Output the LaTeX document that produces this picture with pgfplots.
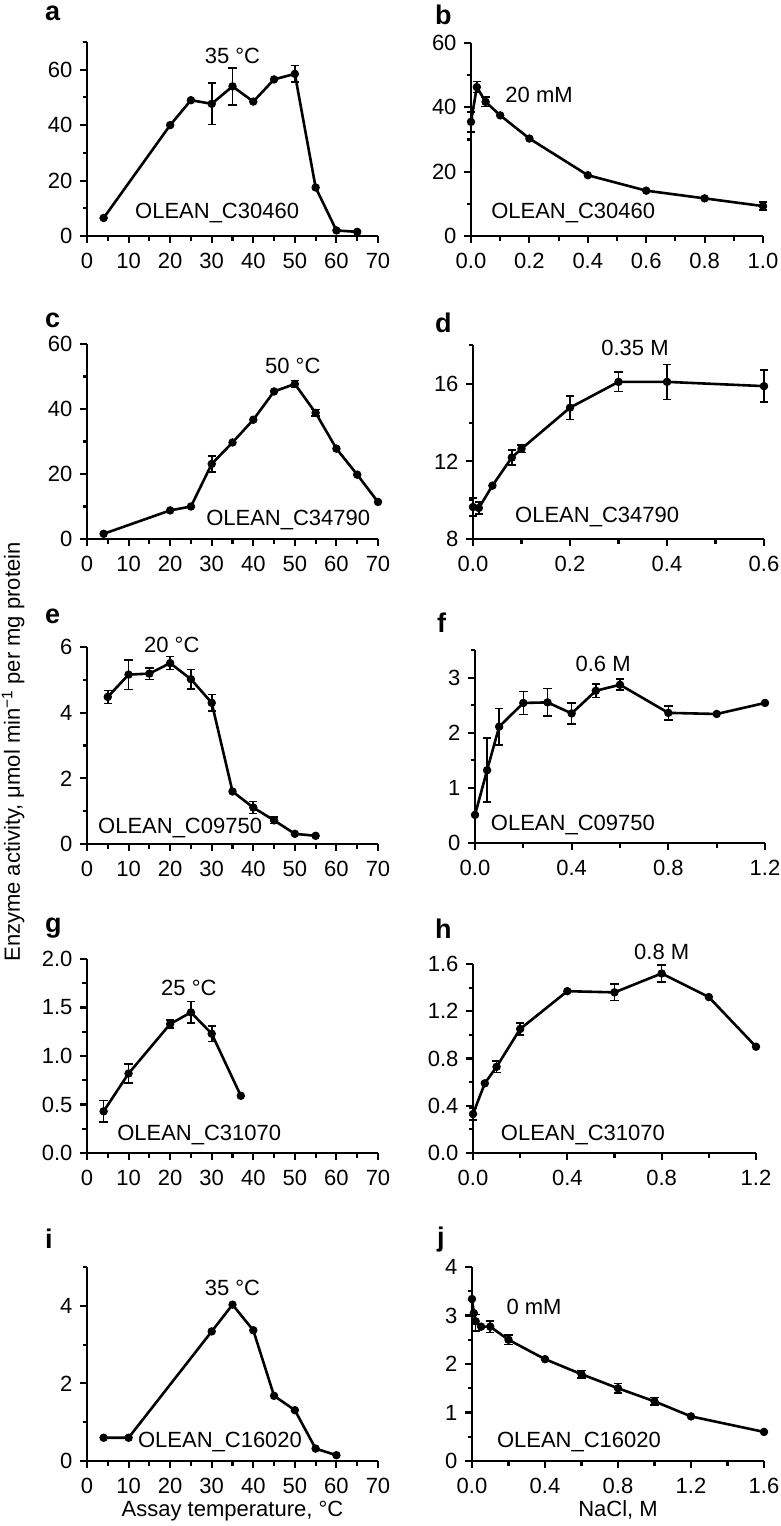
\documentclass[border=0pt]{standalone}
\usepackage{fontspec}
\setmainfont{Liberation Sans}
\usepackage{pgfplots}
\pgfplotsset{compat=1.18}
\newcommand\fs{\fontsize{22}{26}\selectfont}
\newcommand\fl{\fontsize{27}{30}\selectfont\bfseries}
\pgfplotsset{
  panel/.style={
    scale only axis,
    anchor=south west,
    axis lines=left,
    axis line style={-, line width=2.1pt, black},
    tick align=outside,
    major tick length=7pt,
    minor tick length=4.5pt,
    tick style={line width=2.1pt, black},
    tick label style={font=\fs},
    xticklabel style={yshift=-7pt},
    yticklabel style={xshift=-4pt},
    label style={font=\fs},
    /pgf/number format/assume math mode=true,
    clip=false,
    minor tick num=1,
    xmin=0,
  },
  curve/.style={black, line width=2.6pt, mark=*, mark size=3.7pt, mark options={solid, fill=black, line width=1pt}},
  ebar/.style={draw=none, mark=none, forget plot,
     error bars/.cd, y dir=both, y explicit,
     error bar style={draw=black, line width=1.6pt},
     error mark options={rotate=90, mark size=4.2pt, line width=1.6pt, draw=black}},
}
\begin{document}
\begin{tikzpicture}[x=1pt,y=1pt]
\useasboundingbox (0,0) rectangle (781,-1526);
% panel letters
\node[font=\fl, anchor=base west, inner sep=0] at (45,-20) {a};
\node[font=\fl, anchor=base west, inner sep=0] at (435,-24) {b};
\node[font=\fl, anchor=base west, inner sep=0] at (45,-327) {c};
\node[font=\fl, anchor=base west, inner sep=0] at (435,-332) {d};
\node[font=\fl, anchor=base west, inner sep=0] at (45,-623) {e};
\node[font=\fl, anchor=base west, inner sep=0] at (437,-632) {f};
\node[font=\fl, anchor=base west, inner sep=0] at (45,-932) {g};
\node[font=\fl, anchor=base west, inner sep=0] at (435,-938) {h};
\node[font=\fl, anchor=base west, inner sep=0] at (45,-1248) {i};
\node[font=\fl, anchor=base west, inner sep=0] at (437,-1246) {j};
\node[font=\fs, rotate=90] at (13,-752) {Enzyme activity, μmol min\textsuperscript{−1} per mg protein};

% a
\begin{axis}[panel, at={(87pt,-236pt)}, width=291pt, height=194pt, xmax=70, ymin=0, ymax=70,
  xtick={0,10,20,30,40,50,60,70}, ytick={0,20,40,60}, minor y tick num=0, minor ytick={10,30,50,70}]
\addplot[curve] coordinates {(4,6.5)(20,40)(25,49)(30,47.7)(35,54)(40,48.5)(45,56.5)(50,58.5)(55,17.5)(60,2)(65,1.5)};
\addplot[ebar] coordinates {(30,47.7) +- (0,7.5) (35,54) +- (0,6.7) (50,58.5) +- (0,3)};
\node[font=\fs] at (axis cs:35,65) {35 °C};
\node[font=\fs] at (axis cs:31.3,8.3) {OLEAN\_C30460};
\end{axis}

% b
\begin{axis}[panel, at={(471pt,-236pt)}, width=292pt, height=193pt, xmax=1.0, ymin=0, ymax=60,
  xtick={0,0.2,0.4,0.6,0.8,1.0}, xticklabels={0.0,0.2,0.4,0.6,0.8,1.0}, ytick={0,20,40,60}]
\addplot[curve] coordinates {(0,35.5)(0.02,46.3)(0.05,41.7)(0.1,37.5)(0.2,30.3)(0.4,18.9)(0.6,14.1)(0.8,11.7)(1.0,9.3)};
\addplot[ebar] coordinates {(0,35.5) +- (0,3.1) (0.02,46.3) +- (0,1.7) (0.05,41.7) +- (0,1.5) (1.0,9.3) +- (0,1.3)};
\node[font=\fs, anchor=west] at (axis cs:0.106,43.8) {20 mM};
\node[font=\fs] at (axis cs:0.35,7.1) {OLEAN\_C30460};
\end{axis}

% c
\begin{axis}[panel, at={(87pt,-539pt)}, width=291pt, height=195pt, xmax=70, ymin=0, ymax=60,
  xtick={0,10,20,30,40,50,60,70}, ytick={0,20,40,60}]
\addplot[curve] coordinates {(4,1.6)(20,8.8)(25,10)(30,23.1)(35,29.7)(40,36.7)(45,45.4)(50,47.7)(55,38.8)(60,27.8)(65,19.8)(70,11.4)};
\addplot[ebar] coordinates {(30,23.1) +- (0,2.5) (50,47.7) +- (0,1.1) (55,38.8) +- (0,1)};
\node[font=\fs] at (axis cs:49.5,53.2) {50 °C};
\node[font=\fs] at (axis cs:48.4,5.8) {OLEAN\_C34790};
\end{axis}

% d
\begin{axis}[panel, at={(473pt,-539pt)}, width=291pt, height=194pt, xmax=0.6, ymin=8, ymax=18,
  xtick={0,0.2,0.4,0.6}, xticklabels={0.0,0.2,0.4,0.6}, ytick={8,12,16}, minor y tick num=0, minor ytick={10,14,18}]
\addplot[curve] coordinates {(0,9.65)(0.012,9.6)(0.04,10.75)(0.08,12.2)(0.1,12.65)(0.2,14.77)(0.3,16.1)(0.4,16.1)(0.6,15.88)};
\addplot[ebar] coordinates {(0,9.65) +- (0,0.45) (0.012,9.6) +- (0,0.3) (0.08,12.2) +- (0,0.4) (0.1,12.65) +- (0,0.2) (0.2,14.77) +- (0,0.6) (0.3,16.1) +- (0,0.5) (0.4,16.1) +- (0,0.9) (0.6,15.88) +- (0,0.82)};
\node[font=\fs] at (axis cs:0.334,17.85) {0.35 M};
\node[font=\fs] at (axis cs:0.256,9.13) {OLEAN\_C34790};
\end{axis}

% e
\begin{axis}[panel, at={(87pt,-844pt)}, width=291pt, height=197pt, xmax=70, ymin=0, ymax=6,
  xtick={0,10,20,30,40,50,60,70}, ytick={0,2,4,6}]
\addplot[curve] coordinates {(5,4.48)(10,5.16)(15,5.19)(20,5.51)(25,5.02)(30,4.3)(35,1.6)(40,1.11)(45,0.72)(50,0.31)(55,0.25)};
\addplot[ebar] coordinates {(5,4.48) +- (0,0.2) (10,5.16) +- (0,0.45) (15,5.19) +- (0,0.18) (20,5.51) +- (0,0.2) (25,5.02) +- (0,0.3) (30,4.3) +- (0,0.25) (40,1.11) +- (0,0.18) (45,0.72) +- (0,0.1)};
\node[font=\fs] at (axis cs:20.4,6.06) {20 °C};
\node[font=\fs] at (axis cs:22.4,0.49) {OLEAN\_C09750};
\end{axis}

% f
\begin{axis}[panel, at={(475pt,-843pt)}, width=290pt, height=193pt, xmax=1.2, ymin=0, ymax=3.5,
  xtick={0,0.4,0.8,1.2}, xticklabels={0.0,0.4,0.8,1.2}, ytick={0,1,2,3}, minor y tick num=0, minor ytick={0.5,1.5,2.5,3.5}]
\addplot[curve] coordinates {(0,0.51)(0.05,1.32)(0.1,2.11)(0.2,2.54)(0.3,2.55)(0.4,2.35)(0.5,2.76)(0.6,2.87)(0.8,2.36)(1.0,2.34)(1.2,2.54)};
\addplot[ebar] coordinates {(0.05,1.32) +- (0,0.58) (0.1,2.11) +- (0,0.33) (0.2,2.54) +- (0,0.21) (0.3,2.55) +- (0,0.25) (0.4,2.35) +- (0,0.19) (0.5,2.76) +- (0,0.12) (0.6,2.87) +- (0,0.1) (0.8,2.36) +- (0,0.13)};
\node[font=\fs] at (axis cs:0.53,3.25) {0.6 M};
\node[font=\fs] at (axis cs:0.405,0.33) {OLEAN\_C09750};
\end{axis}

% g
\begin{axis}[panel, at={(87pt,-1153pt)}, width=291pt, height=194pt, xmax=70, ymin=0, ymax=2,
  xtick={0,10,20,30,40,50,60,70}, ytick={0,0.5,1,1.5,2}, yticklabels={0.0,0.5,1.0,1.5,2.0}]
\addplot[curve] coordinates {(4,0.43)(10,0.82)(20,1.33)(25,1.45)(30,1.23)(37,0.59)};
\addplot[ebar] coordinates {(4,0.43) +- (0,0.11) (10,0.82) +- (0,0.1) (20,1.33) +- (0,0.04) (25,1.45) +- (0,0.11) (30,1.23) +- (0,0.08)};
\node[font=\fs] at (axis cs:24.5,1.70) {25 °C};
\node[font=\fs] at (axis cs:27,0.19) {OLEAN\_C31070};
\end{axis}

% h
\begin{axis}[panel, at={(473pt,-1153pt)}, width=283pt, height=189pt, xmax=1.2, ymin=0, ymax=1.6,
  xtick={0,0.4,0.8,1.2}, xticklabels={0.0,0.4,0.8,1.2}, ytick={0,0.4,0.8,1.2,1.6}, yticklabels={0.0,0.4,0.8,1.2,1.6}]
\addplot[curve] coordinates {(0,0.33)(0.05,0.59)(0.1,0.73)(0.2,1.05)(0.4,1.37)(0.6,1.36)(0.8,1.52)(1.0,1.32)(1.2,0.90)};
\addplot[ebar] coordinates {(0,0.33) +- (0,0.05) (0.1,0.73) +- (0,0.05) (0.2,1.05) +- (0,0.05) (0.6,1.36) +- (0,0.07) (0.8,1.52) +- (0,0.07)};
\node[font=\fs] at (axis cs:0.80,1.70) {0.8 M};
\node[font=\fs] at (axis cs:0.466,0.15) {OLEAN\_C31070};
\end{axis}

% i
\begin{axis}[panel, at={(87pt,-1461pt)}, width=291pt, height=194pt, xmax=70, ymin=0, ymax=5,
  xtick={0,10,20,30,40,50,60,70}, ytick={0,2,4}, minor y tick num=0, minor ytick={1,3,5},
  xlabel={Assay temperature, °C}]
\addplot[curve] coordinates {(4,0.6)(10,0.6)(30,3.34)(35,4.03)(40,3.37)(45,1.68)(50,1.31)(55,0.32)(60,0.15)};
\node[font=\fs] at (axis cs:35,4.46) {35 °C};
\node[font=\fs] at (axis cs:32,0.49) {OLEAN\_C16020};
\end{axis}

% j
\begin{axis}[panel, at={(472pt,-1461pt)}, width=292pt, height=194pt, xmax=1.6, ymin=0, ymax=4,
  xtick={0,0.4,0.8,1.2,1.6}, xticklabels={0.0,0.4,0.8,1.2,1.6}, ytick={0,1,2,3,4}, xlabel={NaCl, M}]
\addplot[curve] coordinates {(0,3.34)(0.01,3.05)(0.02,2.88)(0.05,2.77)(0.1,2.77)(0.2,2.5)(0.4,2.1)(0.6,1.79)(0.8,1.5)(1.0,1.23)(1.2,0.92)(1.6,0.6)};
\addplot[ebar] coordinates {(0.02,2.85) +- (0,0.17) (0.1,2.77) +- (0,0.12) (0.2,2.5) +- (0,0.1) (0.6,1.79) +- (0,0.08) (0.8,1.5) +- (0,0.1) (1.0,1.23) +- (0,0.08)};
\node[font=\fs, anchor=west] at (axis cs:0.17,3.18) {0 mM};
\node[font=\fs] at (axis cs:0.586,0.39) {OLEAN\_C16020};
\end{axis}
\end{tikzpicture}
\end{document}
